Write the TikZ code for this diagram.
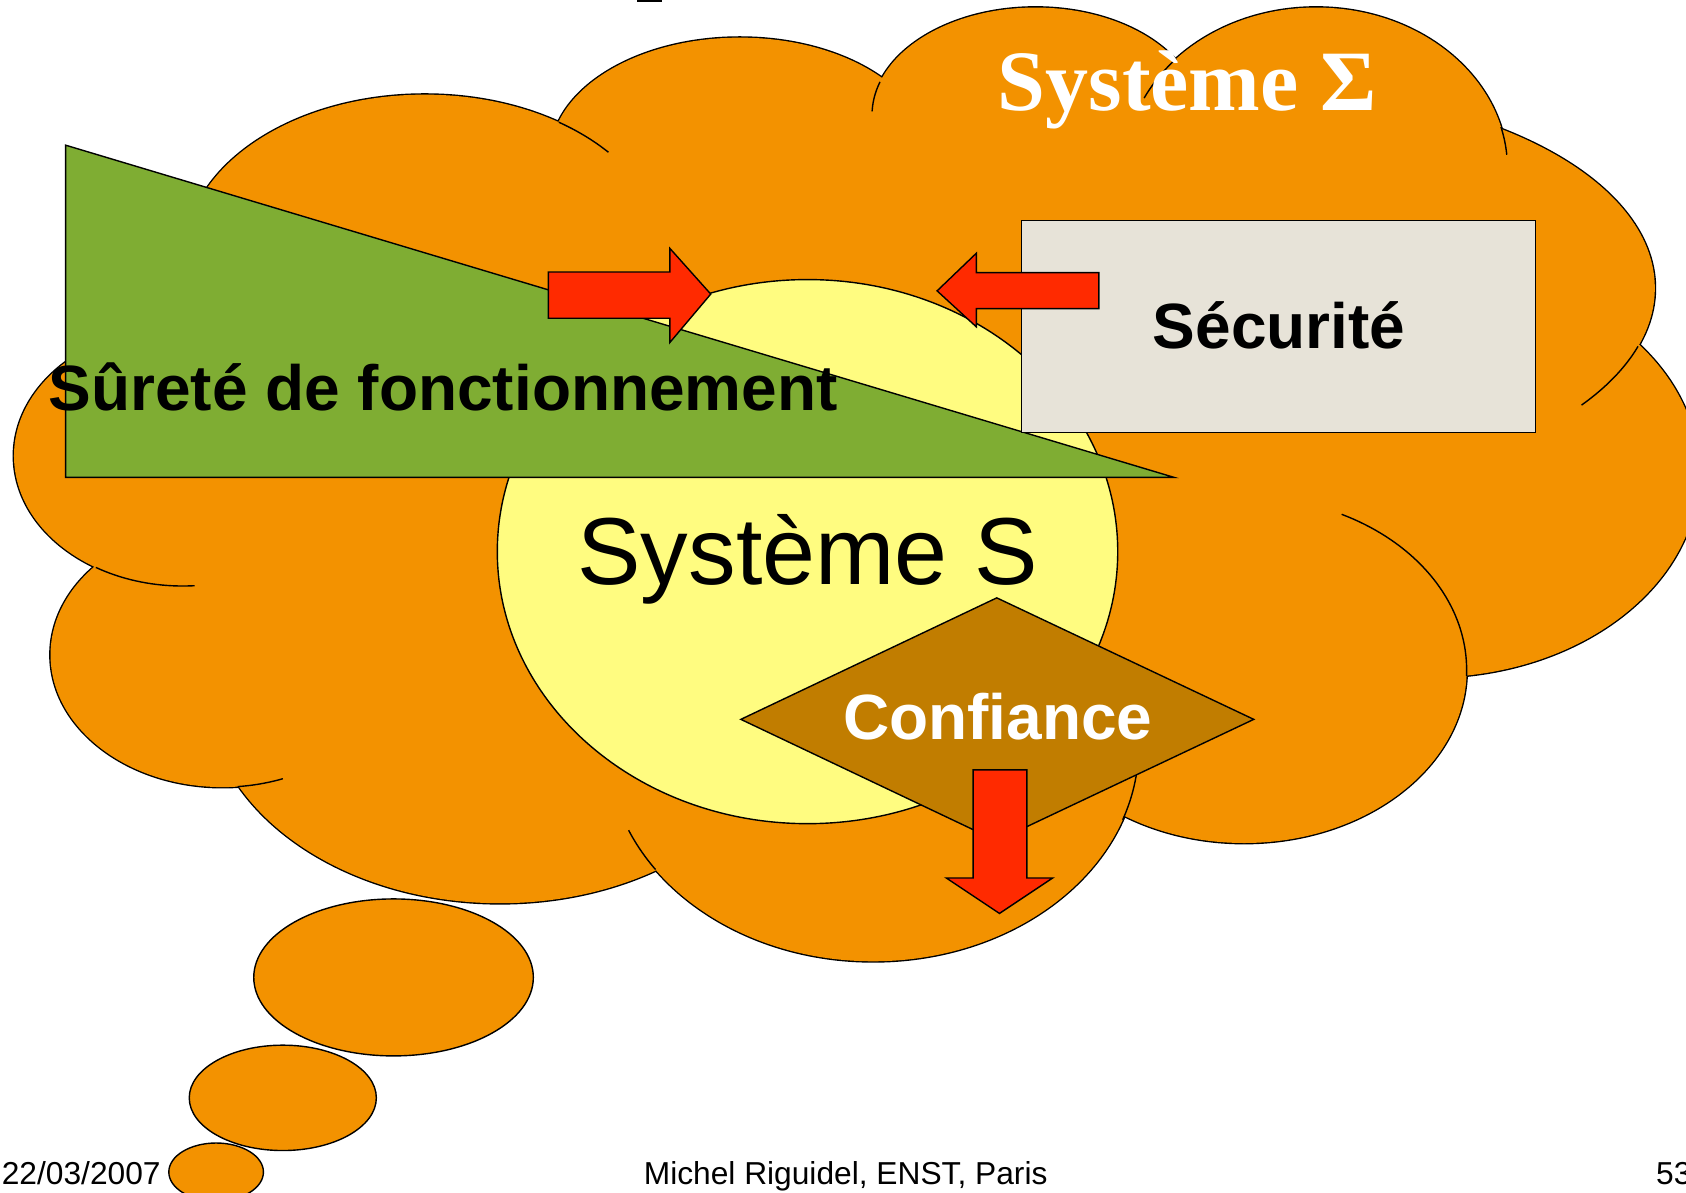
\documentclass[tikz,border=0pt]{standalone}
\usepackage{fontspec}
\usepackage{graphicx}
\setmainfont{Liberation Sans}
\newfontfamily\serifTNR{Liberation Serif}
\definecolor{cloudorange}{RGB}{243,146,0}
\definecolor{paleyellow}{RGB}{255,252,128}
\definecolor{olivegreen}{RGB}{127,173,51}
\definecolor{arrowred}{RGB}{255,42,0}
\definecolor{beigegray}{RGB}{231,227,216}
\definecolor{brownish}{RGB}{193,125,0}
\begin{document}
\begin{tikzpicture}[x=1pt,y=-1pt,
  cloudstroke/.style={draw=black,line width=2.6pt},
  tail/.style={draw=black,line width=1.3pt},
  outl/.style={draw=black,line width=1.3pt,line join=miter},
  bigbold/.style={inner sep=0pt,font=\bfseries\fontsize{59.5}{70}\selectfont},
  foot/.style={inner sep=0pt,font=\fontsize{29.5}{35}\selectfont}]
\useasboundingbox (0,0) rectangle (1568,1109);
\clip (0,0) rectangle (1568,1109);
\fill[white] (0,0) rectangle (1568,1109);
% small mark at the top edge
\fill[black] (592,0) rectangle (616,2);
% ---------- cloud ----------
\def\cloudlobes{
  (395,238) ellipse [x radius=223pt,y radius=150pt]
  (688,145) ellipse [x radius=176pt,y radius=110pt]
  (963,107) ellipse [x radius=152pt,y radius=100pt]
  (1224,157) ellipse [x radius=178pt,y radius=150pt]
  (1182,268) ellipse [x radius=357pt,y radius=185pt]
  (1330,440) ellipse [x radius=250pt,y radius=190pt]
  (1157,623) ellipse [x radius=207pt,y radius=161pt]
  (812,694) ellipse [x radius=247pt,y radius=200pt]
  (465,640) ellipse [x radius=273pt,y radius=200pt]
  (207,609) ellipse [x radius=160pt,y radius=123pt]
  (170,424) ellipse [x radius=157pt,y radius=121pt]}
\draw[cloudstroke] \cloudlobes;
\fill[cloudorange] \cloudlobes;
\fill[cloudorange] (395,238) -- (688,145) -- (963,107) -- (1224,157) -- (1182,268)
  -- (1330,440) -- (1157,623) -- (812,694) -- (465,640) -- (207,609) -- (170,424) -- cycle;
% inner tails of the cloud lobes
\draw[tail] plot[domain=-56:-40,samples=20] ({395+223*cos(\x)},{238+150*sin(\x)});
\draw[tail] plot[domain=-178:-162,samples=20] ({963+152*cos(\x)},{107+100*sin(\x)});
\draw[tail] plot[domain=-154:-137,samples=20] ({1224+178*cos(\x)},{157+150*sin(\x)});
\draw[tail] plot[domain=-15:-5,samples=20] ({1224+178*cos(\x)},{157+150*sin(\x)});
\draw[tail] plot[domain=17:36,samples=20] ({1182+357*cos(\x)},{268+185*sin(\x)});
\draw[tail] plot[domain=-64:2,samples=40] ({1157+207*cos(\x)},{623+161*sin(\x)});
\draw[tail] plot[domain=-5:20,samples=20] ({812+247*cos(\x)},{694+200*sin(\x)});
\draw[tail] plot[domain=145:157,samples=20] ({812+247*cos(\x)},{694+200*sin(\x)});
\draw[tail] plot[domain=69.5:85,samples=20] ({207+160*cos(\x)},{609+123*sin(\x)});
\draw[tail] plot[domain=86:121,samples=20] ({170+157*cos(\x)},{424+121*sin(\x)});
% thought bubbles
\draw[outl,fill=cloudorange] (366,909) ellipse [x radius=130pt,y radius=73pt];
\draw[outl,fill=cloudorange] (263,1021) ellipse [x radius=87pt,y radius=49pt];
\draw[outl,fill=cloudorange] (201,1090) ellipse [x radius=44pt,y radius=27pt];
% ---------- inner shapes ----------
\draw[outl,fill=paleyellow] (751,513) ellipse [x radius=288.5pt,y radius=253pt];
\draw[outl,fill=olivegreen] (61,135) -- (61,444) -- (1092,444) -- cycle;
\draw[outl,fill=arrowred] (510,253) -- (623,253) -- (623,231) -- (661,273.5)
  -- (623,318.5) -- (623,296) -- (510,296) -- cycle;
\draw[outl,fill=beigegray] (950,205) rectangle (1428,402);
\draw[outl,fill=arrowred] (1022,253.5) -- (908,253.5) -- (908,235.5) -- (871.5,270.5)
  -- (908,304) -- (908,287) -- (1022,287) -- cycle;
\draw[outl,fill=brownish] (689,669) -- (927,556) -- (1166,669) -- (927,782) -- cycle;
\draw[outl,fill=arrowred] (905,716) -- (955,716) -- (955,816.5) -- (979,816.5)
  -- (929.5,849.5) -- (880,816.5) -- (905,816.5) -- cycle;
% ---------- texts ----------
\node[anchor=base,inner sep=0pt,text=white,font=\serifTNR\bfseries\fontsize{80}{96}\selectfont]
  (sigma) at (1104,103) {Système Σ};
\node[bigbold,anchor=base west] (surete) at (45,382) {Sûreté de fonctionnement};
\node[bigbold,anchor=base] (securite) at (1189.5,324) {Sécurité};
\node[anchor=base,inner sep=0pt,font=\fontsize{88.5}{100}\selectfont] (systemeS) at (751,544) {Système S};
\node[bigbold,anchor=base,text=white] (confiance) at (928,688) {Confiance};
\node[foot,anchor=base west] (date) at (1.5,1102) {22/03/2007};
\node[foot,anchor=base] (author) at (786.5,1102) {Michel Riguidel, ENST, Paris};
\node[foot,anchor=base west] (page) at (1540,1102) {53};
\end{tikzpicture}
\end{document}
